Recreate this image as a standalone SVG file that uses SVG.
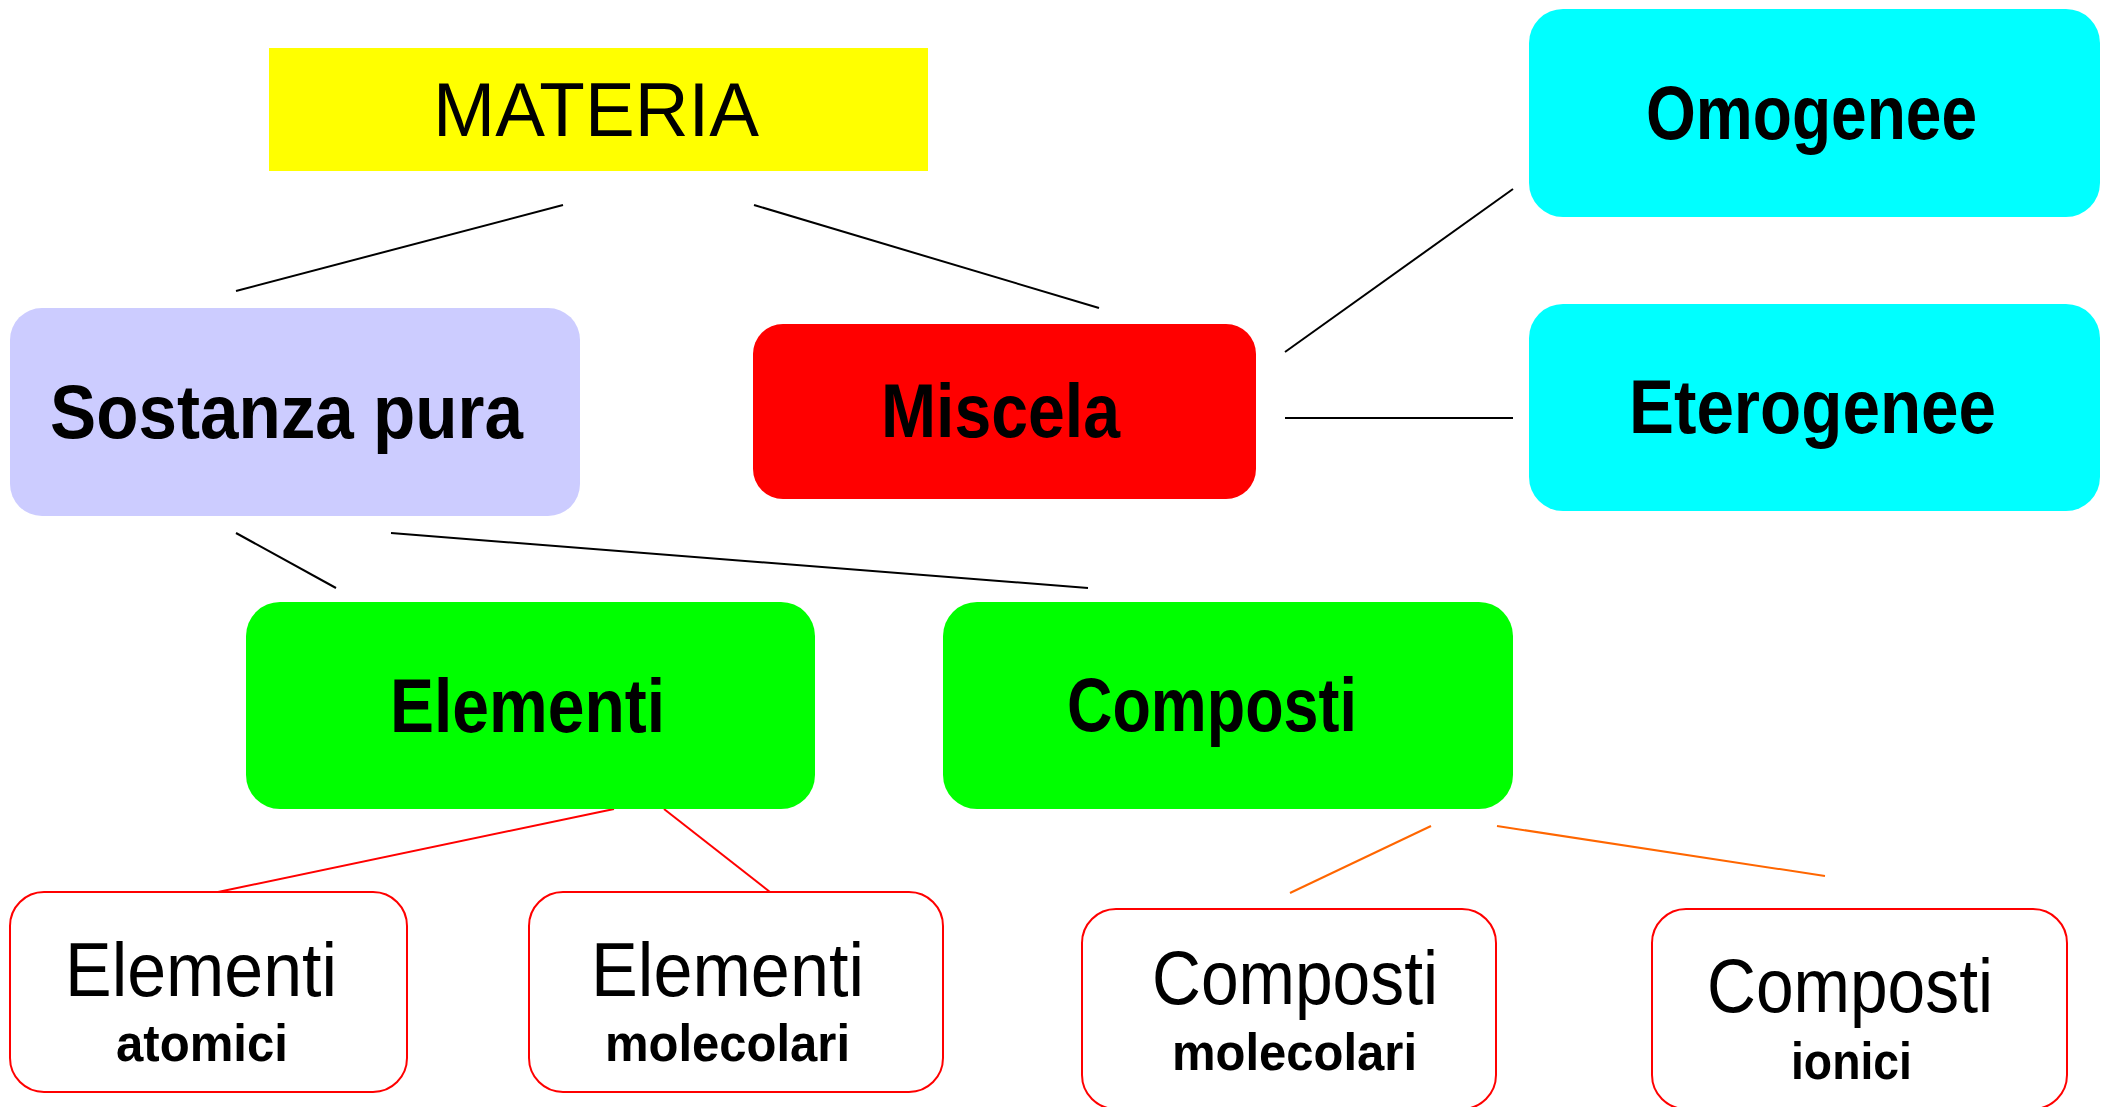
<svg xmlns="http://www.w3.org/2000/svg" width="2109" height="1107" viewBox="0 0 2109 1107">
<style>
.t{font-family:"Liberation Sans","DejaVu Sans",sans-serif;fill:#000;text-anchor:start}
.b{font-weight:bold}
.big{font-size:76px}
.sub{font-size:52px;font-weight:bold}
.lk{stroke:#000;stroke-width:2;fill:none}
.lr{stroke:#FF0000;stroke-width:2;fill:none}
.lo{stroke:#FF6600;stroke-width:2;fill:none}
.wb{fill:#FFFFFF;stroke:#FF0000;stroke-width:2}
</style>
<rect width="2109" height="1107" fill="#FFFFFF"/>
<g id="connectors">
<line class="lk" x1="563" y1="205" x2="236" y2="291"/>
<line class="lk" x1="754" y1="205" x2="1099" y2="308"/>
<line class="lk" x1="1285" y1="352" x2="1513" y2="189"/>
<line class="lk" x1="1285" y1="418" x2="1513" y2="418"/>
<line class="lk" x1="236" y1="533" x2="336" y2="588"/>
<line class="lk" x1="391" y1="533" x2="1088" y2="588"/>
<line class="lr" x1="614" y1="809" x2="218" y2="892"/>
<line class="lr" x1="664" y1="809" x2="770" y2="892"/>
<line class="lo" x1="1431" y1="826" x2="1290" y2="893"/>
<line class="lo" x1="1497" y1="826" x2="1825" y2="876"/>
</g>
<g id="materia">
<rect x="269" y="48" width="659" height="123" fill="#FFFF00"/>
<text class="t big" x="433" y="136" textLength="326" lengthAdjust="spacingAndGlyphs">MATERIA</text>
</g>
<g id="sostanza">
<rect x="10" y="308" width="570" height="208" rx="32" fill="#CCCCFF"/>
<text class="t big b" x="50" y="438" textLength="473" lengthAdjust="spacingAndGlyphs">Sostanza pura</text>
</g>
<g id="miscela">
<rect x="753" y="324" width="503" height="175" rx="30" fill="#FF0000"/>
<text class="t big b" x="881" y="437" textLength="239" lengthAdjust="spacingAndGlyphs">Miscela</text>
</g>
<g id="omogenee">
<rect x="1529" y="9" width="571" height="208" rx="34" fill="#00FFFF"/>
<text class="t big b" x="1646" y="139" textLength="331" lengthAdjust="spacingAndGlyphs">Omogenee</text>
</g>
<g id="eterogenee">
<rect x="1529" y="304" width="571" height="207" rx="34" fill="#00FFFF"/>
<text class="t big b" x="1629" y="433" textLength="367" lengthAdjust="spacingAndGlyphs">Eterogenee</text>
</g>
<g id="elementi">
<rect x="246" y="602" width="569" height="207" rx="34" fill="#00FF00"/>
<text class="t big b" x="390" y="732" textLength="275" lengthAdjust="spacingAndGlyphs">Elementi</text>
</g>
<g id="composti">
<rect x="943" y="602" width="570" height="207" rx="34" fill="#00FF00"/>
<text class="t big b" x="1067" y="731" textLength="290" lengthAdjust="spacingAndGlyphs">Composti</text>
</g>
<g id="elementi-atomici">
<rect class="wb" x="10" y="892" width="397" height="200" rx="34"/>
<text class="t big" x="65" y="996" textLength="272" lengthAdjust="spacingAndGlyphs">Elementi</text>
<text class="t sub" x="116" y="1061" textLength="172" lengthAdjust="spacingAndGlyphs">atomici</text>
</g>
<g id="elementi-molecolari">
<rect class="wb" x="529" y="892" width="414" height="200" rx="34"/>
<text class="t big" x="591" y="996" textLength="273" lengthAdjust="spacingAndGlyphs">Elementi</text>
<text class="t sub" x="605" y="1061" textLength="245" lengthAdjust="spacingAndGlyphs">molecolari</text>
</g>
<g id="composti-molecolari">
<rect class="wb" x="1082" y="909" width="414" height="200" rx="34"/>
<text class="t big" x="1152" y="1004" textLength="286" lengthAdjust="spacingAndGlyphs">Composti</text>
<text class="t sub" x="1172" y="1070" textLength="245" lengthAdjust="spacingAndGlyphs">molecolari</text>
</g>
<g id="composti-ionici">
<rect class="wb" x="1652" y="909" width="415" height="200" rx="34"/>
<text class="t big" x="1707" y="1012" textLength="286" lengthAdjust="spacingAndGlyphs">Composti</text>
<text class="t sub" x="1791" y="1079" textLength="121" lengthAdjust="spacingAndGlyphs">ionici</text>
</g>
</svg>
